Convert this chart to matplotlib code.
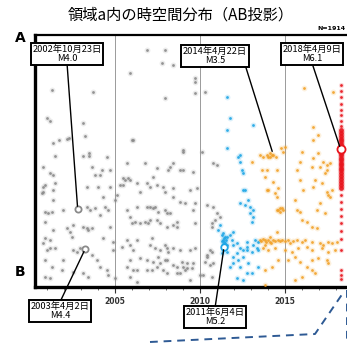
import matplotlib
matplotlib.use("Agg")
import matplotlib.pyplot as plt
from matplotlib.lines import Line2D
import numpy as np

plt.rcParams["font.family"] = ["Noto Sans CJK JP", "DejaVu Sans"]

TITLE = "領域a内の時空間分布（AB投影）"
N_TEXT = "N=1914"
YEAR_TICKS = [2005, 2010, 2015]

# decimal year / distance from A (km)
gray_year = [
    2001.29, 2003.71, 2005.88, 2001.00, 2001.18, 2003.12, 2003.24, 2001.35, 2001.71, 2002.18,
    2002.29, 2001.47, 2003.12, 2003.47, 2003.47, 2004.53, 2006.00, 2006.88, 2007.94, 2007.76,
    2008.41, 2009.71, 2009.71, 2007.94, 2009.71, 2010.29, 2009.00, 2010.12, 2006.06,
    2000.76, 2001.18, 2001.35, 2003.65, 2003.82, 2004.12, 2004.24, 2004.71, 2000.76, 2000.88,
    2000.76, 2000.71, 2001.47, 2001.35, 2003.35, 2004.00, 2004.29, 2004.71, 2005.47, 2005.88,
    2006.29, 2001.35, 2000.88, 2001.06, 2001.29, 2001.94, 2003.35, 2003.53, 2003.82, 2004.41,
    2004.59, 2004.12, 2005.71, 2005.88, 2006.29, 2000.88, 2001.35, 2001.18, 2000.88, 2000.76,
    2002.18, 2002.35, 2002.47, 2002.53, 2003.12, 2003.35, 2003.41, 2003.65, 2004.71, 2004.29,
    2004.88, 2004.88, 2001.18, 2001.47, 2001.00, 2002.53, 2002.76, 2002.94, 2003.65, 2003.94,
    2004.12, 2004.53, 2000.88, 2001.29, 2001.94, 2001.88, 2001.18, 2000.88, 2002.53, 2003.12,
    2003.41, 2004.59, 2005.00, 2005.41, 2005.71, 2005.88, 2006.29, 2006.29, 2005.29, 2006.00,
    2008.24, 2009.00, 2007.24, 2006.88, 2007.47, 2007.82, 2008.41, 2009.41, 2009.82, 2007.06,
    2007.24, 2007.53, 2007.94, 2008.06, 2008.82, 2009.12, 2009.59, 2009.71, 2006.76, 2006.94,
    2007.65, 2008.41, 2008.65, 2008.65, 2009.71, 2010.71, 2010.88, 2010.71, 2007.18, 2007.06,
    2008.06, 2007.65, 2008.12, 2009.41, 2009.71, 2010.41, 2010.71, 2006.88, 2007.24, 2007.53,
    2007.94, 2008.41, 2008.65, 2009.00, 2009.24, 2009.53, 2009.59, 2007.18, 2007.82, 2008.82,
    2010.00, 2010.18, 2010.29, 2010.59, 2010.71,
    2005.88, 2006.06, 2007.35, 2007.94, 2008.41, 2008.82, 2006.47, 2007.65, 2008.06, 2008.94,
    2009.24, 2005.71, 2006.06, 2005.88, 2006.29, 2006.88, 2007.47, 2008.06, 2008.65, 2009.12,
    2009.41, 2005.71, 2006.76, 2007.47, 2008.12, 2008.41, 2009.00, 2008.82, 2009.59, 2005.59,
    2005.76, 2005.47, 2005.12, 2005.00, 2006.47, 2007.06, 2007.94, 2008.41, 2006.88, 2007.35,
    2008.24, 2006.18, 2006.47, 2007.06, 2007.47, 2008.06, 2010.76, 2011.00, 2010.41, 2010.76,
    2011.00, 2011.18, 2010.41, 2010.59, 2010.76,
]
gray_dist = [
    5.5, 5.7, 3.8, 8.3, 8.6, 8.8, 10.1, 10.8, 10.5, 10.4,
    10.3, 12.1, 12.1, 11.8, 12.1, 12.2, 10.5, 1.5, 1.5, 2.8,
    3.0, 4.3, 4.7, 6.3, 5.8, 5.7, 11.7, 11.7, 10.5,
    13.2, 13.8, 14.0, 13.2, 14.0, 14.0, 13.5, 13.5, 15.2, 15.0,
    15.7, 15.8, 14.8, 15.5, 15.2, 15.2, 16.2, 15.2, 14.3, 14.5,
    14.8, 16.5, 17.7, 17.8, 17.7, 17.5, 17.2, 17.5, 17.3, 17.2,
    17.5, 18.0, 17.5, 18.2, 17.2, 18.7, 19.5, 20.5, 20.3, 20.8,
    19.3, 19.7, 20.2, 19.0, 19.2, 19.3, 19.5, 19.3, 19.2, 20.3,
    20.7, 21.5, 21.3, 21.3, 21.5, 21.5, 21.7, 21.3, 22.0, 22.5,
    23.2, 23.5, 22.5, 23.2, 22.5, 23.5, 24.3, 24.2, 23.7, 23.8,
    24.2, 24.0, 24.3, 21.2, 20.5, 22.5, 20.5, 23.5, 15.0, 18.8,
    13.2, 13.5, 14.2, 14.8, 15.0, 15.2, 15.3, 15.5, 15.3, 17.2,
    17.3, 17.7, 17.5, 17.8, 16.7, 16.8, 17.5, 16.8, 18.7, 18.8,
    18.8, 19.0, 18.7, 19.2, 18.8, 18.8, 18.5, 19.2, 20.3, 21.0,
    21.3, 21.5, 21.7, 21.5, 21.3, 22.0, 21.7, 22.5, 22.7, 22.2,
    22.5, 23.0, 23.2, 23.2, 23.3, 23.3, 22.8, 23.5, 23.5, 23.8,
    24.0, 24.0, 22.7, 23.0, 24.2,
    21.0, 21.5, 21.3, 21.0, 21.3, 21.5, 22.3, 22.8, 22.5, 22.7,
    22.8, 23.2, 23.5, 24.2, 24.7, 23.5, 23.2, 23.8, 23.8, 23.5,
    24.5, 12.8, 12.8, 13.3, 13.5, 12.8, 11.5, 13.5, 13.7, 14.5,
    14.3, 15.0, 16.0, 16.5, 15.7, 15.2, 15.7, 16.2, 17.2, 17.2,
    17.8, 18.7, 18.8, 18.5, 18.5, 19.2, 12.8, 13.0, 17.0, 17.2,
    17.8, 18.2, 22.2, 21.5, 22.8,
]

blue_year = [
    2011.59, 2011.76, 2012.35, 2011.59, 2011.59, 2013.12, 2012.24, 2012.35, 2012.53, 2012.53,
    2012.82, 2012.94, 2013.12, 2013.06, 2012.94, 2013.12, 2011.94, 2011.76, 2011.59, 2012.65,
    2012.76, 2013.24, 2013.41, 2012.76, 2013.06, 2013.35, 2013.41, 2012.82, 2013.41, 2013.06,
    2011.29, 2011.47, 2011.35, 2011.47, 2011.59, 2011.35, 2011.29, 2011.59, 2011.35, 2011.41,
    2011.41, 2011.41, 2011.47, 2011.35, 2011.29, 2011.53, 2011.88, 2012.18, 2012.35, 2012.53,
    2011.94, 2012.24, 2011.76, 2012.18, 2012.53, 2012.35, 2012.47, 2011.94, 2012.76, 2013.12,
    2012.18, 2012.53, 2011.94, 2012.76, 2012.35, 2012.65, 2011.18, 2011.06,
]
blue_dist = [
    9.5, 8.3, 12.0, 11.3, 6.2, 9.0, 12.2, 12.7, 13.8, 15.5,
    16.5, 17.2, 17.5, 18.7, 17.8, 18.2, 19.7, 20.0, 20.2, 15.5,
    20.7, 20.5, 20.7, 21.5, 21.7, 21.3, 21.5, 22.8, 23.2, 23.8,
    20.0, 20.2, 20.5, 20.8, 21.0, 21.5, 21.8, 21.7, 19.8, 20.3,
    20.7, 21.1, 21.3, 20.9, 20.6, 20.5, 20.5, 20.8, 21.3, 21.5,
    22.2, 22.5, 23.2, 24.3, 24.5, 16.8, 13.5, 21.0, 21.2, 21.0,
    21.8, 22.2, 22.8, 23.8, 23.2, 17.0, 19.0, 19.5,
]

orange_year = [
    2016.12, 2017.82, 2016.65, 2016.65, 2016.94, 2014.00, 2014.24, 2014.76, 2014.88, 2016.00,
    2013.53, 2013.71, 2013.94, 2014.12, 2014.29, 2014.47, 2014.12, 2015.00, 2015.88, 2016.65,
    2016.94, 2017.24, 2017.65, 2017.06, 2017.47, 2015.71, 2015.88, 2016.06, 2016.65, 2017.06,
    2017.47, 2017.53, 2017.65, 2017.76, 2013.94, 2014.53, 2014.29, 2013.94, 2014.53, 2014.71,
    2014.53, 2014.88, 2013.06, 2013.65, 2013.82, 2014.00, 2014.41, 2014.59, 2014.59, 2014.71,
    2014.82, 2015.59, 2015.71, 2015.88, 2016.00, 2016.29, 2016.59, 2016.88, 2016.88, 2017.35,
    2016.76, 2017.18, 2017.35, 2016.59, 2017.47, 2014.53, 2014.12, 2013.82,
    2013.53, 2013.82, 2014.12, 2014.29, 2014.59, 2015.18, 2015.47, 2015.71, 2016.00, 2016.18,
    2016.59, 2017.06, 2017.24, 2017.53, 2017.76, 2018.06, 2013.60, 2013.70, 2013.90, 2014.00,
    2014.20, 2014.40, 2014.70, 2014.80, 2015.00, 2015.30,
    2013.71, 2014.00, 2014.41, 2015.00, 2015.41, 2015.76, 2016.29, 2016.59, 2017.18, 2017.53,
    2017.94, 2014.59, 2015.18, 2015.59, 2015.88, 2016.59, 2016.94, 2017.47, 2013.82, 2014.24,
    2016.29, 2016.59, 2016.76, 2017.53, 2013.82, 2015.59, 2016.00,
]
orange_dist = [
    5.3, 5.7, 9.2, 10.5, 10.0, 12.2, 12.0, 11.3, 11.7, 11.7,
    12.0, 12.2, 12.0, 12.2, 12.0, 12.2, 11.8, 11.2, 12.7, 12.3,
    11.8, 12.7, 12.8, 13.2, 13.5, 13.5, 14.5, 15.5, 15.2, 16.8,
    15.7, 16.0, 16.2, 15.5, 13.5, 13.5, 14.7, 15.5, 16.2, 17.3,
    17.5, 17.5, 12.7, 13.5, 14.2, 15.5, 15.8, 15.3, 17.5, 17.7,
    17.3, 16.5, 17.5, 17.7, 18.5, 18.7, 19.2, 19.3, 17.5, 17.8,
    14.5, 14.8, 13.8, 13.2, 13.0, 19.7, 20.2, 21.0,
    20.5, 20.5, 20.7, 20.5, 20.5, 20.5, 20.6, 20.5, 20.7, 20.5,
    20.7, 20.8, 21.0, 20.7, 20.8, 20.7, 20.6, 20.4, 20.7, 20.5,
    20.8, 20.6, 20.6, 20.5, 20.6, 20.8,
    21.3, 21.5, 21.3, 21.5, 21.7, 21.3, 21.2, 21.5, 21.3, 21.7,
    21.5, 22.5, 22.5, 22.2, 22.7, 22.5, 22.3, 22.5, 23.5, 23.2,
    23.2, 23.5, 23.8, 22.8, 25.0, 24.5, 24.2,
]

red_year = [
    2018.30, 2018.29, 2018.31, 2018.29, 2018.30, 2018.28, 2018.31, 2018.29, 2018.27, 2018.30,
    2018.28, 2018.31, 2018.27, 2018.29, 2018.30, 2018.26, 2018.28, 2018.31, 2018.27, 2018.29,
    2018.30, 2018.27, 2018.29, 2018.31, 2018.28, 2018.30, 2018.27, 2018.29, 2018.30, 2018.28,
    2018.29, 2018.30, 2018.29, 2018.30, 2018.31, 2018.29, 2018.30, 2018.29, 2018.30, 2018.31,
    2018.32, 2018.30,
]
red_dist = [
    5.0, 5.6, 6.2, 6.9, 7.5, 8.0, 8.6, 9.1, 9.5, 9.8,
    10.1, 10.4, 10.6, 10.9, 11.1, 11.3, 11.6, 11.8, 12.0, 12.3,
    12.5, 12.8, 13.0, 13.3, 13.5, 13.8, 14.1, 14.4, 14.7, 15.0,
    15.3, 16.0, 16.7, 17.4, 18.1, 18.8, 19.6, 20.4, 21.5, 23.5,
    24.0, 24.4,
]

# mainshocks
shock_labels = [
    "2002年10月23日\nM4.0",
    "2003年4月2日\nM4.4",
    "2011年6月4日\nM5.2",
    "2014年4月22日\nM3.5",
    "2018年4月9日\nM6.1",
]
shock_year = [2002.81, 2003.25, 2011.42, 2014.30, 2018.27]
shock_dist = [17.4, 21.4, 21.2, 11.9, 11.4]

GRAY = "#8a8a8a"
BLUE = "#1ea6e6"
ORANGE = "#f2a22a"
RED = "#e8141c"

W, H = 347, 343
fig = plt.figure(figsize=(W / 100, H / 100), dpi=100)
fig.patch.set_facecolor("white")


def fx(px):
    return px / W


def fy(py):
    return 1 - py / H


ax = fig.add_axes([fx(35), fy(287), fx(347) - fx(35), fy(35) - fy(287)])
ax.set_xlim(2000.3, 2018.65)
ax.set_ylim(25.2, 0)


def dots(x, y, color, size=4, halo=18):
    ax.scatter(x, y, s=halo, color=color, alpha=0.16, linewidths=0, zorder=2)
    ax.scatter(x, y, s=size, color=color, alpha=0.9, linewidths=0, zorder=3)


dots(gray_year, gray_dist, GRAY)
dots(blue_year, blue_dist, BLUE)
dots(orange_year, orange_dist, ORANGE)

red_year_arr = np.array(red_year)
red_dist_arr = np.array(red_dist)
core = (red_dist_arr >= 9.4) & (red_dist_arr <= 15.4)
dots(red_year_arr[~core], red_dist_arr[~core], RED, size=4, halo=14)
dots(red_year_arr[core], red_dist_arr[core], RED, size=12, halo=28)

shock_colors = [GRAY, GRAY, BLUE, None, RED]
shock_sizes = [20, 20, 22, 0, 34]
for yr, d, c, s in zip(shock_year, shock_dist, shock_colors, shock_sizes):
    if c is None:
        continue
    ax.scatter([yr], [d], s=s, facecolor="white", edgecolor=c, linewidths=1.3, zorder=6)

# label boxes (figure pixels of box centre) and where the leader leaves the box
box_px = [(67, 54), (60, 311), (215, 317), (215, 56), (312, 54)]
box_rel = [(0.5, 0.0), (0.5, 1.0), (0.5, 1.0), (0.97, 0.0), (0.5, 0.0)]
for text, yr, d, (bx, by), rel in zip(shock_labels, shock_year, shock_dist, box_px, box_rel):
    ax.annotate(
        text,
        xy=(yr, d),
        xytext=(fx(bx), fy(by)),
        textcoords="figure fraction",
        ha="center",
        va="center",
        fontsize=6.7,
        linespacing=1.0,
        annotation_clip=False,
        bbox=dict(boxstyle="square,pad=0.18", facecolor="white", edgecolor="black", linewidth=1.4),
        arrowprops=dict(arrowstyle="-", color="black", lw=1.0, relpos=rel, shrinkA=0, shrinkB=2),
        zorder=8,
    )

for yr in YEAR_TICKS:
    ax.axvline(yr, color="#9a9a9a", linewidth=0.7, zorder=1)

ax.set_xticks(YEAR_TICKS)
ax.set_xticklabels([str(y) for y in YEAR_TICKS], fontsize=5.5, family="DejaVu Sans", fontweight="bold")
ax.set_xticks(np.arange(2001, 2019), minor=True)
ax.tick_params(axis="x", which="major", length=4, width=0.8, pad=3, colors="#333333")
ax.tick_params(axis="x", which="minor", length=2.5, width=0.6, colors="#555555")
ax.set_yticks([])

for side in ["left", "bottom"]:
    ax.spines[side].set_linewidth(2.4)
ax.spines["top"].set_linewidth(1.6)
ax.spines["right"].set_visible(False)

fig.text(0.52, fy(15), TITLE, ha="center", va="center", fontsize=11)
fig.text(fx(20), fy(38), "A", ha="center", va="center", fontsize=10, fontweight="bold", family="DejaVu Sans")
fig.text(fx(20), fy(272), "B", ha="center", va="center", fontsize=10, fontweight="bold", family="DejaVu Sans")
fig.text(fx(345), fy(29), N_TEXT, ha="right", va="center", fontsize=4.5, fontweight="bold", family="DejaVu Sans")

# dashed connector to the next panel
dash_color = "#2e5a94"
fig.add_artist(Line2D([fx(150), fx(315), fx(343)], [fy(342), fy(334), fy(293)],
                      color=dash_color, lw=1.4, linestyle=(0, (4, 3))))
fig.add_artist(Line2D([fx(346.5), fx(346.5)], [fy(290), fy(343)],
                      color=dash_color, lw=1.4, linestyle=(0, (4, 3))))

fig.savefig("out.png", dpi=100)
